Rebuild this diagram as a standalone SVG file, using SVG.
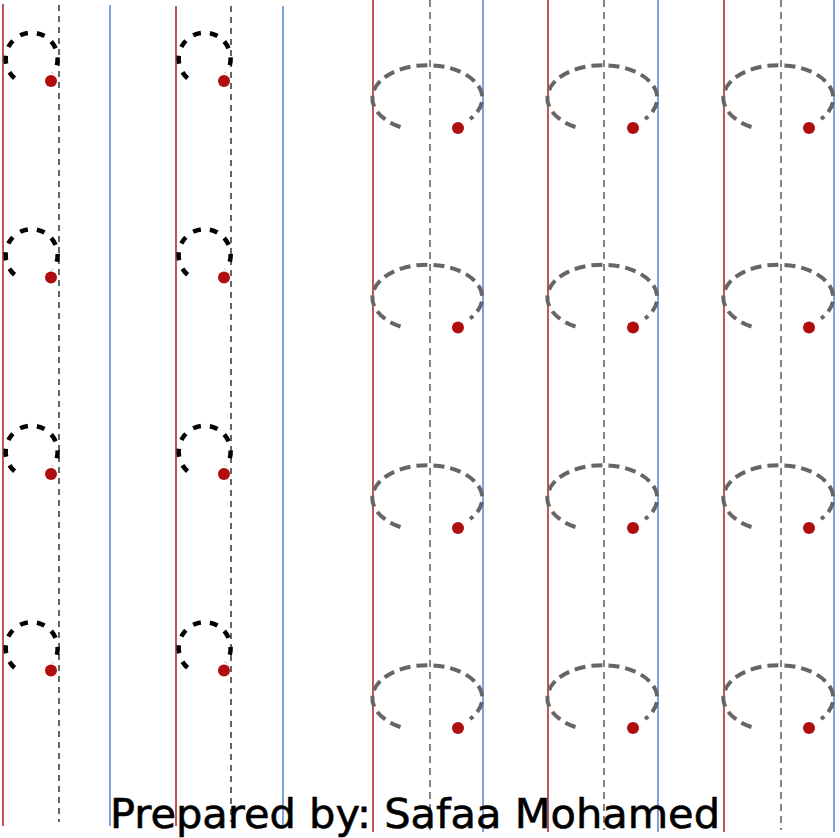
<svg xmlns="http://www.w3.org/2000/svg" width="840" height="838" viewBox="0 0 840 838">
<defs>
<style>
.red{stroke:#b22a2a;stroke-width:1.6;fill:none}
.blue{stroke:#5b8fd9;stroke-width:1.6;fill:none}
.axis{stroke:#000;stroke-width:1.2;stroke-dasharray:6 5;fill:none}
.axis2{stroke:#333;stroke-width:1.2;stroke-dasharray:7 5;fill:none}
.sc{stroke:#000;stroke-width:4.5;stroke-dasharray:8 9;fill:none}
.lc{stroke:#666;stroke-width:4;stroke-dasharray:11 6;fill:none}
.dot{fill:#b00e0e}
.title{font-family:"Comic Sans MS","DejaVu Sans",sans-serif;font-size:40px;fill:#000;stroke:#000;stroke-width:0.6}
</style>
<g id="small">
<path class="sc" d="M14.6,78.3 A26,26 0 1 1 53,73.5"/>
<circle class="dot" cx="51" cy="81" r="6"/>
</g>
<g id="large">
<path class="lc" d="M400.5,127 A55,33 0 1 1 470,119"/>
<circle class="dot" cx="458" cy="128" r="6"/>
</g>
</defs>
<rect width="840" height="838" fill="#fff"/>
<g id="connectors">
<line class="red" x1="3" y1="4" x2="3" y2="826"/>
<line class="axis" x1="59" y1="5" x2="59" y2="822"/>
<line class="blue" x1="110" y1="5" x2="110" y2="826"/>
<line class="red" x1="176" y1="6" x2="176" y2="826"/>
<line class="axis" x1="231" y1="6" x2="231" y2="822"/>
<line class="blue" x1="283" y1="6" x2="283" y2="826"/>
<line class="red" x1="373" y1="0" x2="373" y2="832"/>
<line class="axis2" x1="430" y1="0" x2="430" y2="830"/>
<line class="blue" x1="483" y1="0" x2="483" y2="832"/>
<line class="red" x1="548" y1="0" x2="548" y2="832"/>
<line class="axis2" x1="604" y1="0" x2="604" y2="830"/>
<line class="blue" x1="658" y1="0" x2="658" y2="832"/>
<line class="red" x1="724" y1="0" x2="724" y2="832"/>
<line class="axis2" x1="781" y1="0" x2="781" y2="830"/>
<line class="blue" x1="834" y1="0" x2="834" y2="832"/>
</g>
<g id="small-c1-r1"><use href="#small"/></g>
<g id="small-c1-r2"><use href="#small" y="196.5"/></g>
<g id="small-c1-r3"><use href="#small" y="393"/></g>
<g id="small-c1-r4"><use href="#small" y="589.5"/></g>
<g id="small-c2-r1"><use href="#small" x="173"/></g>
<g id="small-c2-r2"><use href="#small" x="173" y="196.5"/></g>
<g id="small-c2-r3"><use href="#small" x="173" y="393"/></g>
<g id="small-c2-r4"><use href="#small" x="173" y="589.5"/></g>
<g id="large-c3-r1"><use href="#large"/></g>
<g id="large-c3-r2"><use href="#large" y="199.5"/></g>
<g id="large-c3-r3"><use href="#large" y="400"/></g>
<g id="large-c3-r4"><use href="#large" y="600"/></g>
<g id="large-c4-r1"><use href="#large" x="175"/></g>
<g id="large-c4-r2"><use href="#large" x="175" y="199.5"/></g>
<g id="large-c4-r3"><use href="#large" x="175" y="400"/></g>
<g id="large-c4-r4"><use href="#large" x="175" y="600"/></g>
<g id="large-c5-r1"><use href="#large" x="351"/></g>
<g id="large-c5-r2"><use href="#large" x="351" y="199.5"/></g>
<g id="large-c5-r3"><use href="#large" x="351" y="400"/></g>
<g id="large-c5-r4"><use href="#large" x="351" y="600"/></g>
<g id="caption">
<text class="title" x="110" y="828" textLength="610" lengthAdjust="spacingAndGlyphs">Prepared by: Safaa Mohamed</text>
</g>
</svg>
